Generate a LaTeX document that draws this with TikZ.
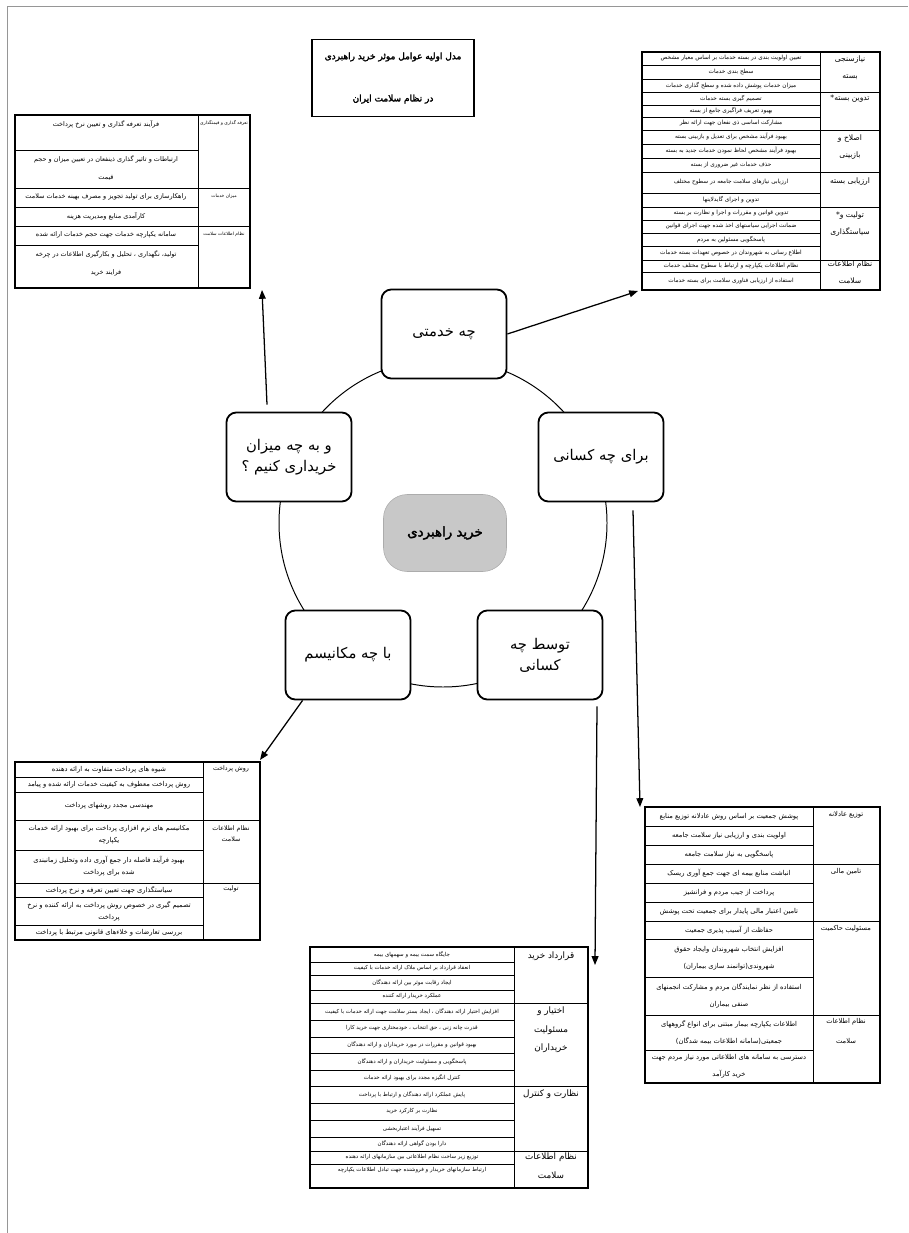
\documentclass[tikz,border=0pt]{standalone}
\usepackage{fontspec}
\usepackage{tikz}
\usetikzlibrary{arrows.meta}
\newfontfamily\farsi[Script=Arabic]{DejaVu Sans}
\newfontfamily\farsib[Script=Arabic,FakeBold=2.5]{DejaVu Sans}
\TeXXeTstate=1
\newcommand\fa[1]{\beginR #1\endR}
\definecolor{hubgray}{RGB}{200,200,200}
\definecolor{framegray}{RGB}{150,150,150}
\tikzset{
  qbox/.style={draw,line width=1.3pt,rounded corners=7pt,fill=white,align=center,
               minimum width=3.125cm,minimum height=2.225cm,
               font=\farsi\fontsize{10.5}{15}\selectfont},
  hub/.style={draw=gray!65,fill=hubgray,rounded corners=17pt,
              minimum width=3.075cm,minimum height=1.925cm,
              font=\farsib\fontsize{9.5}{11}\selectfont},
  ttl/.style={draw,line width=1pt,minimum width=4.05cm,minimum height=1.925cm,
              align=center,font=\farsib\fontsize{6.4}{30}\selectfont},
  tline/.style={line width=0.6pt},
  tframe/.style={line width=1pt},
  rowtxt/.style={inner sep=0pt,align=center},
  headtxt/.style={inner sep=0pt,align=center,anchor=north},
  arr/.style={-{Triangle[length=2.2mm,width=1.7mm]},line width=0.9pt},
}

\begin{document}
\begin{tikzpicture}[x=0.025cm,y=-0.025cm]
\useasboundingbox (0,0) rectangle (908,1233);
\draw[framegray,line width=0.5pt] (7,1233) -- (7,6) -- (908,6);

% title
\node[ttl] (title) at (393,78) {\fa{مدل اولیه عوامل موثر خرید راهبردی}\\\fa{در نظام سلامت ایران}};

% ring and questions
\draw[line width=0.7pt] (443,523) circle[radius=164];
\node[hub] (hub) at (445,533) {\fa{خرید راهبردی}};
\node[qbox] (khedmat) at (444,334) {\fa{چه خدمتی}};
\node[qbox] (kasani) at (601,457) {\fa{برای چه کسانی}};
\node[qbox] (mizan) at (289,457) {\fa{و به چه میزان}\\\fa{خریداری کنیم ؟}};
\node[qbox] (mekanism) at (348,655) {\fa{با چه مکانیسم}};
\node[qbox] (tavasot) at (540,655) {\fa{توسط چه}\\\fa{کسانی}};

% table: how much
\foreach \ya/\yb/\tx [count=\i] in {
  115/150/{\fa{فرآیند تعرفه گذاری و تعیین نرخ پرداخت}},
  150/188/{\fa{ارتباطات و تاثیر گذاری ذینفعان در تعیین میزان و حجم}\\\fa{قیمت}},
  188/207/{\fa{راهکارسازی برای تولید تجویز و مصرف بهینه خدمات سلامت}},
  207/226/{\fa{کارآمدی منابع ومدیریت هزینه}},
  226/245/{\fa{سامانه یکپارچه خدمات جهت حجم خدمات ارائه شده}},
  245/288/{\fa{تولید، نگهداری ، تحلیل و بکارگیری اطلاعات در چرخه}\\\fa{فرایند خرید}}}
{\draw[tline] (15,\ya) rectangle (198,\yb);
 \node[rowtxt,anchor=north,font=\farsi\fontsize{4.6}{13}\selectfont] (mz\i) at (106,\ya+5) {\tx};}
\foreach \ya/\yb/\yt/\tx [count=\i] in {
  115/188/120/{\fa{تعرفه گذاری و قیمتگذاری}},
  188/226/194/{\fa{میزان خدمات}},
  226/288/232/{\fa{نظام اطلاعات سلامت}}}
{\draw[tline] (198,\ya) rectangle (250,\yb);
 \node[headtxt,font=\farsi\fontsize{3.2}{8}\selectfont] (mzh\i) at (224,\yt) {\tx};}
\draw[tframe] (15,115) rectangle (250,288);

% table: what service
\foreach \ya/\yb/\tx [count=\i] in {
  52/65/{\fa{تعیین اولویت بندی در بسته خدمات بر اساس معیار مشخص}},
  65/79/{\fa{سطح بندی خدمات}},
  79/92/{\fa{میزان خدمات پوشش داده شده و سطح گذاری خدمات}},
  92/105/{\fa{تصمیم گیری بسته خدمات}},
  105/117/{\fa{بهبود تعریف فراگیری جامع از بسته}},
  117/130/{\fa{مشارکت اساسی ذی نفعان جهت ارائه نظر}},
  130/144/{\fa{بهبود فرآیند مشخص برای تعدیل و بازبینی بسته}},
  144/158/{\fa{بهبود فرآیند مشخص لحاظ نمودن خدمات جدید به بسته}},
  158/172/{\fa{حذف خدمات غیر ضروری از بسته}},
  172/193/{\fa{ارزیابی نیازهای سلامت جامعه در سطوح مختلف}},
  193/207/{\fa{تدوین و اجرای گایدلاینها}},
  207/220/{\fa{تدوین قوانین و مقررات و اجرا و نظارت بر بسته}},
  220/233/{\fa{ضمانت اجرایی سیاستهای اخذ شده جهت اجرای قوانین}},
  233/246/{\fa{پاسخگویی مسئولین به مردم}},
  246/260/{\fa{اطلاع رسانی به شهروندان در خصوص تعهدات بسته خدمات}},
  260/272/{\fa{نظام اطلاعات یکپارچه و ارتباط با سطوح مختلف خدمات}},
  272/290/{\fa{استفاده از ارزیابی فناوری سلامت برای بسته خدمات}}}
{\draw[tline] (642,\ya) rectangle (820,\yb);
 \node[rowtxt,font=\farsi\fontsize{4.1}{8}\selectfont] (sv\i) at (731,{(\ya+\yb)/2}) {\tx};}
\foreach \ya/\yb/\yt/\tx [count=\i] in {
  52/92/55/{\fa{نیازسنجی}\\\fa{بسته}},
  92/130/95/{\fa{تدوین بسته*}},
  130/172/134/{\fa{اصلاح و}\\\fa{بازبینی}},
  172/207/177/{\fa{ارزیابی بسته}},
  207/260/211/{\fa{تولیت و*}\\\fa{سیاستگذاری}},
  260/290/260/{\fa{نظام اطلاعات}\\\fa{سلامت}}}
{\draw[tline] (820,\ya) rectangle (880,\yb);
 \node[headtxt,font=\farsi\fontsize{5.4}{12.5}\selectfont] (svh\i) at (850,\yt) {\tx};}
\draw[tframe] (642,52) rectangle (880,290);

% table: what mechanism
\foreach \ya/\yb/\tx [count=\i] in {
  762/777/{\fa{شیوه های پرداخت متفاوت به ارائه دهنده}},
  777/792/{\fa{روش پرداخت معطوف به کیفیت خدمات ارائه شده و پیامد}},
  792/820/{\fa{مهندسی مجدد روشهای پرداخت}},
  820/850/{\fa{مکانیسم های نرم افزاری پرداخت برای بهبود ارائه خدمات}\\\fa{یکپارچه}},
  850/883/{\fa{بهبود فرآیند فاصله دار جمع آوری داده وتحلیل زمانبندی}\\\fa{شده برای پرداخت}},
  883/897/{\fa{سیاستگذاری جهت تعیین تعرفه و نرخ پرداخت}},
  897/925/{\fa{تصمیم گیری در خصوص روش پرداخت به ارائه کننده و نرخ}\\\fa{پرداخت}},
  925/940/{\fa{بررسی تعارضات و خلاءهای قانونی مرتبط با پرداخت}}}
{\draw[tline] (15,\ya) rectangle (203,\yb);
 \node[rowtxt,font=\farsi\fontsize{4.8}{8.5}\selectfont] (mk\i) at (109,{(\ya+\yb)/2}) {\tx};}
\foreach \ya/\yb/\yt/\tx [count=\i] in {
  762/820/765/{\fa{روش پرداخت}},
  820/883/825/{\fa{نظام اطلاعات}\\\fa{سلامت}},
  883/940/885/{\fa{تولیت}}}
{\draw[tline] (203,\ya) rectangle (260,\yb);
 \node[headtxt,font=\farsi\fontsize{4.5}{8}\selectfont] (mkh\i) at (231,\yt) {\tx};}
\draw[tframe] (15,762) rectangle (260,940);

% table: for whom
\foreach \ya/\yb/\tx [count=\i] in {
  807/826/{\fa{پوشش جمعیت بر اساس روش عادلانه توزیع منابع}},
  826/845/{\fa{اولویت بندی و ارزیابی نیاز سلامت جامعه}},
  845/864/{\fa{پاسخگویی به نیاز سلامت جامعه}},
  864/883/{\fa{انباشت منابع بیمه ای جهت جمع آوری ریسک}},
  883/902/{\fa{پرداخت از جیب مردم و فرانشیز}},
  902/921/{\fa{تامین اعتبار مالی پایدار برای جمعیت تحت پوشش}},
  921/939/{\fa{حفاظت از آسیب پذیری جمعیت}},
  939/977/{\fa{افزایش انتخاب شهروندان وایجاد حقوق}\\\fa{شهروندی(توانمند سازی بیماران)}},
  977/1015/{\fa{استفاده از نظر نمایندگان مردم و مشارکت انجمنهای}\\\fa{صنفی بیماران}},
  1015/1050/{\fa{اطلاعات یکپارچه بیمار مبتنی برای انواع گروههای}\\\fa{جمعیتی(سامانه اطلاعات بیمه شدگان)}},
  1050/1083/{\fa{دسترسی به سامانه های اطلاعاتی مورد نیاز مردم جهت}\\\fa{خرید کارآمد}}}
{\draw[tline] (645,\ya) rectangle (813,\yb);
 \node[rowtxt,font=\farsi\fontsize{4.8}{12}\selectfont] (ks\i) at (729,{(\ya+\yb)/2}) {\tx};}
\foreach \ya/\yb/\yt/\tx [count=\i] in {
  807/864/811/{\fa{توزیع عادلانه}},
  864/921/868/{\fa{تامین مالی}},
  921/1015/925/{\fa{مسئولیت حاکمیت}},
  1015/1083/1018/{\fa{نظام اطلاعات}\\\fa{سلامت}}}
{\draw[tline] (813,\ya) rectangle (880,\yb);
 \node[headtxt,font=\farsi\fontsize{4.8}{14}\selectfont] (ksh\i) at (846,\yt) {\tx};}
\draw[tframe] (645,807) rectangle (880,1083);

% table: by whom
\foreach \ya/\yb/\tx [count=\i] in {
  947/962/{\fa{جایگاه سمت بیمه و سهمهای بیمه}},
  962/975/{\fa{انعقاد قرارداد بر اساس ملاک ارائه خدمات با کیفیت}},
  975/990/{\fa{ایجاد رقابت موثر بین ارائه دهندگان}},
  990/1003/{\fa{عملکرد خریدار ارائه کننده}},
  1003/1020/{\fa{افزایش اختیار ارائه دهندگان ، ایجاد بستر سلامت جهت ارائه خدمات با کیفیت}},
  1020/1037/{\fa{قدرت چانه زنی ، حق انتخاب ، خودمختاری جهت خرید کارا}},
  1037/1053/{\fa{بهبود قوانین و مقررات در مورد خریداران و ارائه دهندگان}},
  1053/1070/{\fa{پاسخگویی و مسئولیت خریداران و ارائه دهندگان}},
  1070/1086/{\fa{کنترل انگیزه مجدد برای بهبود ارائه خدمات}},
  1086/1103/{\fa{پایش عملکرد ارائه دهندگان و ارتباط با پرداخت}},
  1103/1120/{\fa{نظارت بر کارکرد خرید}},
  1120/1137/{\fa{تسهیل فرآیند اعتباربخشی}},
  1137/1151/{\fa{دارا بودن گواهی ارائه دهندگان}},
  1151/1164/{\fa{توزیع زیر ساخت نظام اطلاعاتی بین سازمانهای ارائه دهنده}}}
{\draw[tline] (310,\ya) rectangle (514,\yb);
 \node[rowtxt,font=\farsi\fontsize{3.9}{8}\selectfont] (ts\i) at (412,{(\ya+\yb)/2}) {\tx};}
\draw[tline] (310,1164) rectangle (514,1188);
\node[rowtxt,font=\farsi\fontsize{3.9}{8}\selectfont] (ts15) at (412,1170)
  {\fa{ارتباط سازمانهای خریدار و فروشنده جهت تبادل اطلاعات یکپارچه}};
\foreach \ya/\yb/\yt/\tx [count=\i] in {
  947/1003/951/{\fa{قرارداد خرید}},
  1003/1086/1006/{\fa{اختیار و}\\\fa{مسئولیت}\\\fa{خریداران}},
  1086/1151/1089/{\fa{نظارت و کنترل}},
  1151/1188/1152/{\fa{نظام اطلاعات}\\\fa{سلامت}}}
{\draw[tline] (514,\ya) rectangle (588,\yb);
 \node[headtxt,font=\farsi\fontsize{6.3}{13.5}\selectfont] (tsh\i) at (551,\yt) {\tx};}
\draw[tframe] (310,947) rectangle (588,1188);

% arrows to the tables
\coordinate (svT) at (638,291);
\coordinate (mzT) at (262,290);
\coordinate (ksT) at (640,807);
\coordinate (tsT) at (595,965);
\coordinate (mkT) at (260,760);
\draw[arr] (khedmat.east) -- (svT);
\draw[arr] ([shift={(-22,-7)}]mizan.north) -- (mzT);
\draw[arr] ([shift={(32,8)}]kasani.south) -- (ksT);
\draw[arr] ([shift={(57,6)}]tavasot.south) -- (tsT);
\draw[arr] ([shift={(18,0)}]mekanism.south west) -- (mkT);
\end{tikzpicture}
\end{document}
